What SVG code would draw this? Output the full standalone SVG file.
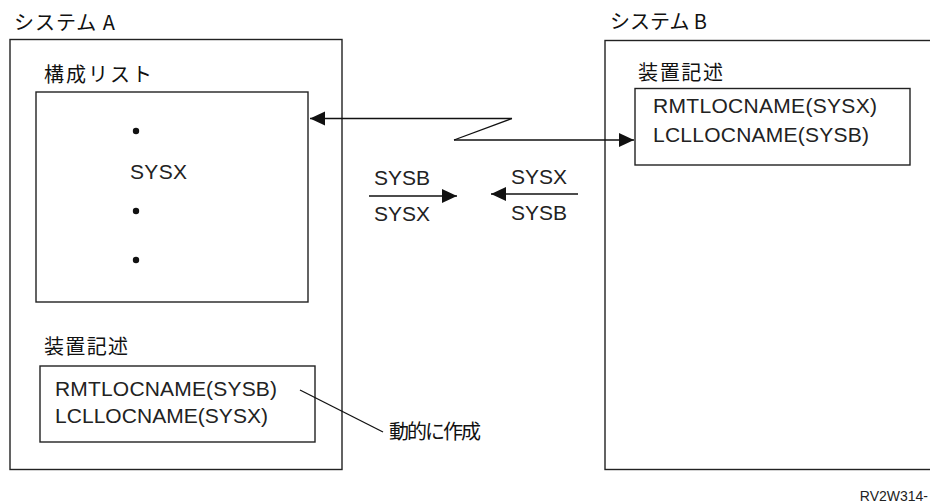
<svg xmlns="http://www.w3.org/2000/svg" width="930" height="504" viewBox="0 0 930 504">
<style>
.box{fill:none;stroke:#222;stroke-width:1.4}
.ln{fill:none;stroke:#111;stroke-width:1.3}
.jp{font-family:"Noto Sans CJK JP","Noto Sans CJK SC",sans-serif;font-size:20px;fill:#111}
.en{font-family:"Liberation Sans",Arial,sans-serif;font-size:21px;fill:#222}
.sm{font-family:"Liberation Sans",Arial,sans-serif;font-size:14px;fill:#222}
</style>
<defs>
<marker id="ah" markerWidth="16" markerHeight="16" refX="15" refY="7" orient="auto" markerUnits="userSpaceOnUse">
<path d="M0,0 L15,7 L0,14 Z" fill="#111"/>
</marker>
</defs>
<rect width="930" height="504" fill="#fff"/>
<g id="systemA">
<text class="jp" x="14" y="30" textLength="101">システム A</text>
<rect class="box" x="10" y="39.5" width="332" height="430"/>
</g>
<g id="configList">
<text class="jp" x="44" y="82" textLength="108">構成リスト</text>
<rect class="box" x="36" y="92" width="272" height="210"/>
<circle cx="136" cy="131" r="3.2" fill="#111"/>
<text class="en" x="130" y="179" textLength="57">SYSX</text>
<circle cx="136" cy="211" r="3.2" fill="#111"/>
<circle cx="136" cy="260" r="3.2" fill="#111"/>
</g>
<g id="deviceA">
<text class="jp" x="44" y="354" textLength="84">装置記述</text>
<rect class="box" x="40" y="366" width="275" height="76"/>
<text class="en" x="55" y="396" textLength="222">RMTLOCNAME(SYSB)</text>
<text class="en" x="55" y="423" textLength="213">LCLLOCNAME(SYSX)</text>
</g>
<g id="systemB">
<text class="jp" x="610" y="29" textLength="97">システム B</text>
<rect class="box" x="605" y="40.5" width="330" height="429"/>
</g>
<g id="deviceB">
<text class="jp" x="638" y="80" textLength="85">装置記述</text>
<rect class="box" x="635" y="88.5" width="275" height="76.5"/>
<text class="en" x="653" y="113" textLength="224">RMTLOCNAME(SYSX)</text>
<text class="en" x="653" y="142" textLength="216">LCLLOCNAME(SYSB)</text>
</g>
<g id="note">
<text class="jp" x="389" y="439" textLength="92">動的に作成</text>
</g>
<g id="connectors">
<path class="ln" d="M512,118.5 L310,118.5" marker-end="url(#ah)"/>
<path class="ln" d="M512,118.5 L454,140"/>
<path class="ln" d="M454,140 L634,140" marker-end="url(#ah)"/>
<path class="ln" d="M369,196 L457,196" marker-end="url(#ah)"/>
<path class="ln" d="M578,194 L491,194" marker-end="url(#ah)"/>
<path class="ln" d="M300,390 L383,432"/>
</g>
<g id="labels">
<text class="en" x="374" y="185" textLength="56">SYSB</text>
<text class="en" x="374" y="221" textLength="56">SYSX</text>
<text class="en" x="511" y="184" textLength="56">SYSX</text>
<text class="en" x="511" y="220" textLength="56">SYSB</text>
<text class="sm" x="928" y="501" text-anchor="end">RV2W314-</text>
</g>
</svg>
